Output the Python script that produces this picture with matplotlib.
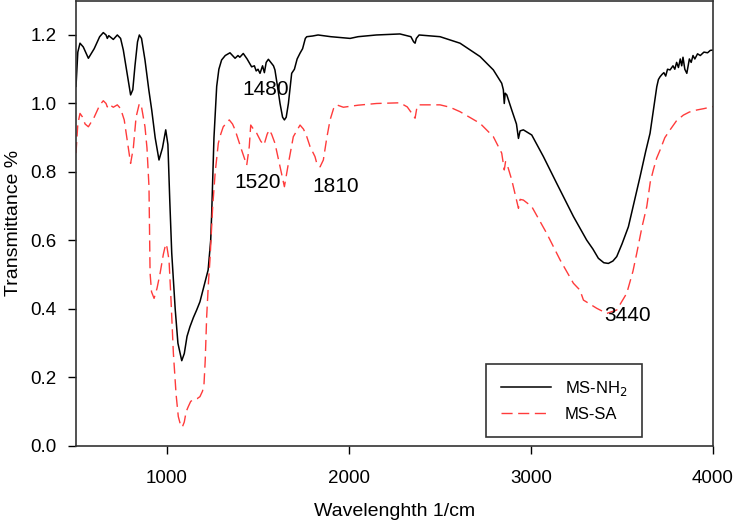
import matplotlib
matplotlib.use('Agg')
import matplotlib.pyplot as plt

plt.rcParams['font.family'] = ['Liberation Sans', 'DejaVu Sans']

# ---------------------------------------------------------------------------
# FTIR spectra (wavenumber 1/cm, transmittance)
# ---------------------------------------------------------------------------
wn_nh2 = [500, 510, 522, 540, 568, 600, 630, 650, 665, 672, 680, 705, 727, 745,
          760, 780, 800, 812, 824, 838, 848, 860, 879, 900, 916, 935, 956, 975,
          993, 1005, 1015, 1026, 1045, 1060, 1081, 1095, 1110, 1126, 1145, 1163,
          1181, 1200, 1226, 1240, 1245, 1258, 1273, 1285, 1300, 1320, 1346, 1360,
          1374, 1390, 1400, 1419, 1440, 1465, 1480, 1490, 1500, 1511, 1525, 1535,
          1545, 1557, 1570, 1585, 1593, 1610, 1621, 1635, 1645, 1655, 1667, 1685,
          1700, 1715, 1731, 1745, 1760, 1768, 1800, 1830, 1900, 2006, 2050, 2150,
          2280, 2340, 2355, 2363, 2370, 2385, 2500, 2610, 2720, 2793, 2839, 2848,
          2853, 2858, 2867, 2894, 2920, 2931, 2940, 2958, 3004, 3068, 3141, 3233,
          3269, 3306, 3340, 3370, 3400, 3425, 3450, 3471, 3500, 3535, 3570, 3599,
          3630, 3654, 3675, 3691, 3700, 3709, 3720, 3730, 3740, 3750, 3764, 3780,
          3790, 3800, 3810, 3820, 3828, 3835, 3845, 3856, 3870, 3880, 3890, 3900,
          3915, 3930, 3950, 3970, 3985, 4000]
t_nh2 = [1.05, 1.15, 1.176, 1.165, 1.132, 1.16, 1.195, 1.207, 1.20, 1.19, 1.198,
         1.187, 1.20, 1.19, 1.156, 1.09, 1.025, 1.04, 1.11, 1.18, 1.20, 1.19,
         1.127, 1.04, 0.981, 0.90, 0.835, 0.87, 0.923, 0.88, 0.72, 0.563, 0.40,
         0.30, 0.249, 0.27, 0.32, 0.348, 0.375, 0.397, 0.421, 0.46, 0.514, 0.60,
         0.67, 0.90, 1.05, 1.10, 1.127, 1.14, 1.148, 1.14, 1.132, 1.14, 1.135,
         1.146, 1.13, 1.107, 1.11, 1.095, 1.10, 1.088, 1.11, 1.09, 1.12, 1.129,
         1.12, 1.11, 1.098, 1.04, 1.0, 0.96, 0.952, 0.96, 1.0, 1.088, 1.10, 1.13,
         1.147, 1.16, 1.19, 1.195, 1.197, 1.2, 1.195, 1.19, 1.195, 1.2, 1.203,
         1.195, 1.18, 1.176, 1.19, 1.20, 1.195, 1.176, 1.137, 1.098, 1.059, 1.04,
         1.0, 1.03, 1.025, 0.981, 0.94, 0.898, 0.92, 0.923, 0.908, 0.845, 0.767,
         0.670, 0.636, 0.601, 0.575, 0.548, 0.535, 0.533, 0.540, 0.553, 0.59,
         0.640, 0.72, 0.786, 0.86, 0.913, 0.99, 1.049, 1.07, 1.078, 1.085, 1.09,
         1.08, 1.10, 1.098, 1.11, 1.10, 1.12, 1.105, 1.13, 1.11, 1.135, 1.10,
         1.088, 1.13, 1.12, 1.14, 1.13, 1.145, 1.14, 1.15, 1.148, 1.155, 1.156]

wn_sa = [500, 510, 522, 535, 550, 568, 600, 630, 650, 665, 672, 680, 705, 727,
         745, 765, 785, 800, 815, 830, 848, 860, 879, 890, 901, 907, 915, 929,
         945, 962, 980, 993, 1000, 1011, 1020, 1035, 1050, 1062, 1075, 1084, 1095,
         1105, 1117, 1130, 1145, 1165, 1181, 1195, 1203, 1210, 1218, 1228, 1236,
         1251, 1265, 1282, 1295, 1309, 1342, 1360, 1374, 1410, 1438, 1452, 1460,
         1475, 1493, 1515, 1533, 1550, 1562, 1575, 1593, 1621, 1645, 1667, 1694,
         1731, 1750, 1768, 1786, 1813, 1823, 1841, 1859, 1878, 1896, 1915, 1932,
         1969, 2050, 2152, 2280, 2320, 2340, 2363, 2372, 2381, 2500, 2555, 2610,
         2720, 2793, 2839, 2853, 2860, 2867, 2894, 2931, 2940, 2958, 3004, 3086,
         3160, 3233, 3269, 3288, 3361, 3416, 3471, 3526, 3560, 3581, 3610, 3636,
         3655, 3672, 3690, 3709, 3735, 3764, 3800, 3837, 3870, 3911, 3950, 4000]
t_sa = [0.855, 0.94, 0.971, 0.961, 0.94, 0.932, 0.96, 0.995, 1.008, 1.0, 0.99,
        0.998, 0.989, 0.996, 0.985, 0.952, 0.88, 0.825, 0.87, 0.96, 1.0, 0.99,
        0.932, 0.87, 0.757, 0.505, 0.45, 0.431, 0.46, 0.504, 0.56, 0.590, 0.58,
        0.543, 0.45, 0.271, 0.15, 0.086, 0.06, 0.055, 0.07, 0.10, 0.115, 0.13,
        0.136, 0.138, 0.144, 0.16, 0.178, 0.25, 0.378, 0.48, 0.543, 0.699, 0.80,
        0.884, 0.91, 0.932, 0.952, 0.94, 0.923, 0.864, 0.82, 0.874, 0.937, 0.925,
        0.913, 0.89, 0.879, 0.91, 0.923, 0.91, 0.884, 0.815, 0.757, 0.825, 0.903,
        0.937, 0.925, 0.903, 0.874, 0.845, 0.825, 0.815, 0.835, 0.90, 0.952,
        0.985, 0.996, 0.989, 0.995, 1.0, 1.002, 0.99, 0.975, 0.957, 0.985, 0.996,
        0.996, 0.989, 0.976, 0.942, 0.903, 0.855, 0.806, 0.83, 0.825, 0.777,
        0.694, 0.72, 0.718, 0.699, 0.621, 0.543, 0.475, 0.455, 0.426, 0.402,
        0.387, 0.397, 0.446, 0.51, 0.563, 0.64, 0.699, 0.77, 0.806, 0.84, 0.864,
        0.90, 0.923, 0.95, 0.966, 0.975, 0.981, 0.985, 0.991]

# peak labels
peak_text = ['1480', '1520', '1810', '3440']
peak_x = [1544, 1500, 1929, 3528]
peak_y = [1.04, 0.769, 0.757, 0.382]

fig = plt.figure(figsize=(7.35, 5.21), dpi=100)
ax = fig.add_axes([0.1034, 0.1440, 0.8667, 0.8546])

ax.plot(wn_nh2, t_nh2, color='black', linewidth=1.1, label='MS-NH$_2$')
ax.plot(wn_sa, t_sa, color='#ff3b3b', linewidth=1.0, dashes=(8, 4),
        label='MS-SA')

for txt, px, py in zip(peak_text, peak_x, peak_y):
    ax.text(px, py, txt, fontsize=15, ha='center', va='center')

ax.set_xlim(500, 4000)
ax.set_ylim(0, 1.3)
ax.set_xticks([1000, 2000, 3000, 4000])
ax.set_yticks([0.0, 0.2, 0.4, 0.6, 0.8, 1.0, 1.2])
ax.set_yticklabels(['0.0', '0.2', '0.4', '0.6', '0.8', '1.0', '1.2'])
ax.tick_params(direction='out', length=6, width=1, labelsize=13.5, pad=8)
ax.tick_params(axis='x', pad=11)

for s in ax.spines.values():
    s.set_color('#333333')
    s.set_linewidth(1.2)

ax.set_xlabel('Wavelenghth 1/cm', fontsize=14, labelpad=12)
ax.set_ylabel('Transmittance %', fontsize=14, labelpad=6)

leg = ax.legend(loc='lower left', bbox_to_anchor=(0.644, 0.021),
                borderaxespad=0, fontsize=12, handlelength=3.0,
                borderpad=0.9, labelspacing=0.5, fancybox=False,
                framealpha=1, edgecolor='#333333')
leg.get_frame().set_linewidth(1.2)

plt.savefig('out.png', dpi=100)
